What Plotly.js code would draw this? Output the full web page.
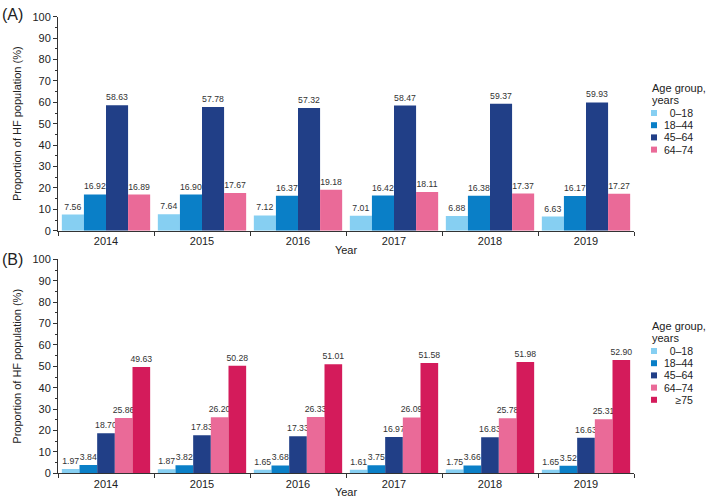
<!DOCTYPE html>
<html>
<head>
<meta charset="utf-8">
<script src="https://cdn.plot.ly/plotly-3.0.1.min.js"></script>
<style>html,body{margin:0;padding:0;background:#fff;}#chart{width:709px;height:498px;}</style>
</head>
<body>
<div id="chart"></div>
<script>
// ---- data ----
const years = ['2014', '2015', '2016', '2017', '2018', '2019'];
const groupsA = ['0–18', '18–44', '45–64', '64–74'];
const groupsB = ['0–18', '18–44', '45–64', '64–74', '≥75'];
const legendLabelsA = ['\u2007\u20070–18', '18–44', '45–64', '64–74'];
const legendLabelsB = ['\u2007\u20070–18', '18–44', '45–64', '64–74', '\u2007\u2007\u2007≥75'];

const a0_18  = [7.56, 7.64, 7.12, 7.01, 6.88, 6.63];
const a18_44 = [16.92, 16.90, 16.37, 16.42, 16.38, 16.17];
const a45_64 = [58.63, 57.78, 57.32, 58.47, 59.37, 59.93];
const a64_74 = [16.89, 17.67, 19.18, 18.11, 17.37, 17.27];

const b0_18  = [1.97, 1.87, 1.65, 1.61, 1.75, 1.65];
const b18_44 = [3.84, 3.82, 3.68, 3.75, 3.66, 3.52];
const b45_64 = [18.70, 17.83, 17.33, 16.97, 16.83, 16.63];
const b64_74 = [25.86, 26.20, 26.33, 26.09, 25.78, 25.31];
const b75    = [49.63, 50.28, 51.01, 51.58, 51.98, 52.90];

const yTicks = [0, 10, 20, 30, 40, 50, 60, 70, 80, 90, 100];

// ---- styles ----
const colors = ['#86cff2', '#0a7fc7', '#213f87', '#ea6a98', '#d41b5b'];
const seriesA = [a0_18, a18_44, a45_64, a64_74];
const seriesB = [b0_18, b18_44, b45_64, b64_74, b75];
const labelFont = {family: 'Liberation Sans Narrow, Arial Narrow, Liberation Sans, Arial, sans-serif', size: 8.7, color: '#333'};
const baseFont = 'Liberation Sans, Arial, sans-serif';

const traces = [];
seriesA.forEach((vals, i) => {
  traces.push({
    type: 'bar', x: years, y: vals, name: groupsA[i],
    xaxis: 'x', yaxis: 'y',
    marker: {color: colors[i], line: {width: 0}},
    text: vals.map(v => v.toFixed(2)), textposition: 'outside',
    textfont: labelFont, cliponaxis: false, constraintext: 'none',
    showlegend: false, hoverinfo: 'none'
  });
});
seriesB.forEach((vals, i) => {
  traces.push({
    type: 'bar', x: years, y: vals, name: groupsB[i],
    xaxis: 'x2', yaxis: 'y2',
    marker: {color: colors[i], line: {width: 0}},
    text: vals.map(v => v.toFixed(2)), textposition: 'outside',
    textfont: labelFont, cliponaxis: false, constraintext: 'none',
    showlegend: false, hoverinfo: 'none'
  });
});

// pixel helpers for layout placement
const W = 709, H = 498, L = 58, R = 75;
const px = x => (x - L) / (W - L - R);
const py = y => (H - y) / H;

function xAxis(anchor) {
  return {
    anchor: anchor, type: 'category', range: [-0.5, 5.5], automargin: false,
    showline: true, linecolor: '#333', linewidth: 1,
    ticks: 'outside', tickson: 'boundaries', ticklen: 4, tickcolor: '#333',
    tickfont: {family: baseFont, size: 11, color: '#222'},
    showgrid: false, zeroline: false,
    title: {text: 'Year', font: {family: baseFont, size: 11, color: '#222'}, standoff: 0}
  };
}
function yAxis(anchor, dom) {
  return {
    anchor: anchor, domain: dom, range: [0, 100], automargin: false,
    tickvals: yTicks, ticktext: yTicks.map(String),
    showline: true, linecolor: '#333', linewidth: 1,
    ticks: 'outside', ticklen: 4, tickcolor: '#333',
    minor: {dtick: 5, ticks: 'outside', ticklen: 2.5, tickcolor: '#333'},
    tickfont: {family: baseFont, size: 11, color: '#222'},
    showgrid: false, zeroline: false,
    title: {text: 'Proportion of HF population (%)', font: {family: baseFont, size: 11, color: '#222'}, standoff: 8}
  };
}

const annotations = [
  {text: '(A)', xref: 'paper', yref: 'paper', x: px(0), y: py(14), xanchor: 'left', yanchor: 'middle', showarrow: false, font: {family: baseFont, size: 16, color: '#222'}},
  {text: '(B)', xref: 'paper', yref: 'paper', x: px(0), y: py(259), xanchor: 'left', yanchor: 'middle', showarrow: false, font: {family: baseFont, size: 16, color: '#222'}}
];
const shapes = [];

function buildLegend(labels, titleY) {
  annotations.push({text: 'Age group,', xref: 'paper', yref: 'paper', x: px(650), y: py(titleY), xanchor: 'left', yanchor: 'middle', align: 'left', showarrow: false, font: {family: baseFont, size: 11, color: '#222'}});
  annotations.push({text: 'years', xref: 'paper', yref: 'paper', x: px(650), y: py(titleY + 11.5), xanchor: 'left', yanchor: 'middle', align: 'left', showarrow: false, font: {family: baseFont, size: 11, color: '#222'}});
  labels.forEach((lab, i) => {
    const cy = titleY + 25 + i * 12.2;
    shapes.push({type: 'rect', xref: 'paper', yref: 'paper', x0: px(651), x1: px(657), y0: py(cy + 3), y1: py(cy - 3), fillcolor: colors[i], line: {width: 0}});
    annotations.push({text: lab, xref: 'paper', yref: 'paper', x: px(695), y: py(cy), xanchor: 'right', yanchor: 'middle', showarrow: false, font: {family: baseFont, size: 10.5, color: '#222'}});
  });
}
buildLegend(legendLabelsA, 88);
buildLegend(legendLabelsB, 326);

const layout = {
  width: W, height: H,
  margin: {l: L, r: R, t: 0, b: 0, autoexpand: false},
  paper_bgcolor: '#fff', plot_bgcolor: '#fff',
  barmode: 'group', bargap: 0.08, bargroupgap: 0,
  showlegend: false,
  xaxis: xAxis('y'),
  yaxis: yAxis('x', [py(230.7), py(16.7)]),
  xaxis2: xAxis('y2'),
  yaxis2: yAxis('x2', [py(473.3), py(259.3)]),
  annotations: annotations,
  shapes: shapes,
  font: {family: baseFont}
};

Plotly.newPlot('chart', traces, layout, {displayModeBar: false, staticPlot: true});
</script>
</body>
</html>
